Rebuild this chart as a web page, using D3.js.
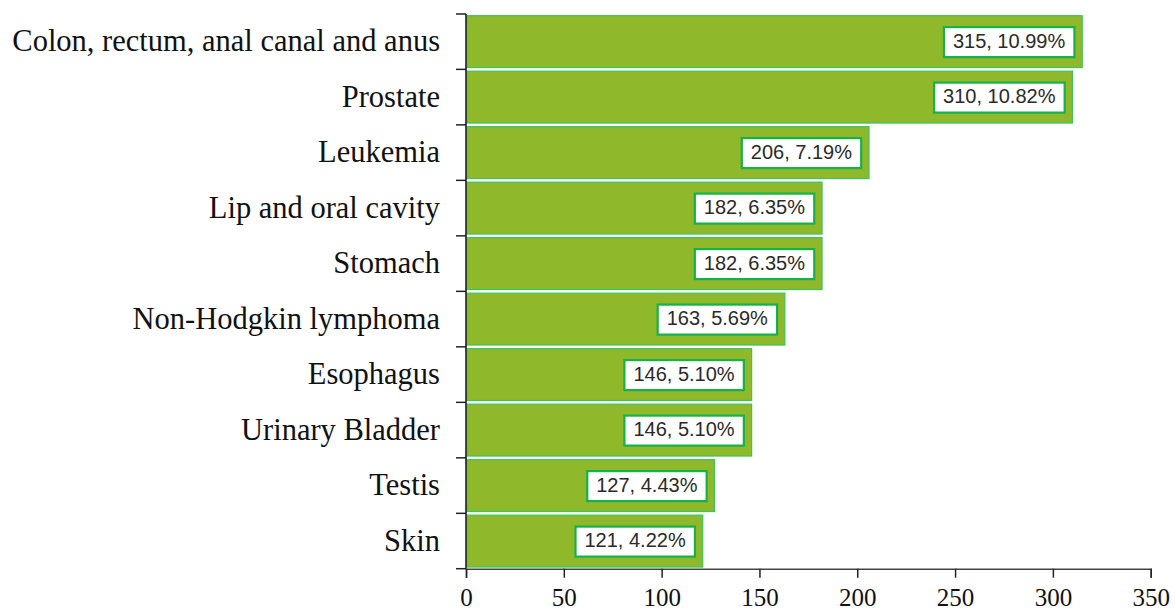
<!DOCTYPE html>
<html>
<head>
<meta charset="utf-8">
<script src="https://cdn.jsdelivr.net/npm/d3@7"></script>
<style>
  body { margin: 0; background: #fff; }
</style>
</head>
<body>
<div id="chart"></div>
<script>
// data
var categories = ["Colon, rectum, anal canal and anus", "Prostate", "Leukemia", "Lip and oral cavity",
                  "Stomach", "Non-Hodgkin lymphoma", "Esophagus", "Urinary Bladder", "Testis", "Skin"];
var counts = [315, 310, 206, 182, 182, 163, 146, 146, 127, 121];
var percents = ["10.99%", "10.82%", "7.19%", "6.35%", "6.35%", "5.69%", "5.10%", "5.10%", "4.43%", "4.22%"];
var xTicks = [0, 50, 100, 150, 200, 250, 300, 350];

var W = 1175, H = 614;
var margin = {top: 14, right: 24, bottom: 45, left: 466};

var svg = d3.select("#chart").append("svg").attr("width", W).attr("height", H);
var g = svg.append("g").attr("transform", "translate(" + margin.left + "," + margin.top + ")");

var x = d3.scaleLinear().domain([0, 350]).range([0, 684.7]);
var y = d3.scaleBand().domain(categories).range([0, 554.7]).paddingInner(0.065).paddingOuter(0.03);

var rows = categories.map(function (c, i) { return {name: c, v: counts[i], p: percents[i]}; });

// bars
g.selectAll(".bar").data(rows).enter().append("rect")
  .attr("class", "bar")
  .attr("x", 1)
  .attr("y", function (d) { return y(d.name); })
  .attr("width", function (d) { return x(d.v) - 1; })
  .attr("height", y.bandwidth())
  .attr("fill", "#8fb82a")
  .attr("stroke", "#3cc45e")
  .attr("stroke-width", 1.2);

// value labels
var lab = g.selectAll(".lab").data(rows).enter().append("g").attr("class", "lab");
lab.append("text")
  .attr("x", function (d) { return x(d.v) - 17; })
  .attr("y", function (d) { return y(d.name) + y.bandwidth() / 2 + 1; })
  .attr("text-anchor", "end")
  .attr("dominant-baseline", "middle")
  .style("font", "20px 'Liberation Sans', Arial, sans-serif")
  .attr("fill", "#2a2a2a")
  .text(function (d) { return d.v + ", " + d.p; });
lab.each(function (d) {
  var t = d3.select(this).select("text");
  var bb = t.node().getBBox();
  d3.select(this).insert("rect", "text")
    .attr("x", bb.x - 9)
    .attr("y", y(d.name) + y.bandwidth() / 2 - 14.5)
    .attr("width", bb.width + 18)
    .attr("height", 30)
    .attr("fill", "#fff")
    .attr("stroke", "#14b24a")
    .attr("stroke-width", 2.2);
});

// y axis
var yAxis = g.append("g")
  .call(d3.axisLeft(y).tickSize(0).tickPadding(26));
yAxis.select(".domain").remove();
yAxis.selectAll("text")
  .style("font", "30.5px 'Liberation Serif', 'Times New Roman', serif")
  .attr("fill", "#111");

// band boundary ticks and axis line
var bounds = d3.range(categories.length + 1).map(function (i) {
  return i < categories.length ? y(categories[i]) - y.step() * y.paddingInner() / 2 : 554.7;
});
bounds[0] = 0;
g.selectAll(".btick").data(bounds).enter().append("line")
  .attr("x1", -10).attr("x2", 0)
  .attr("y1", function (d) { return d; }).attr("y2", function (d) { return d; })
  .attr("stroke", "#222").attr("stroke-width", 1.5);
g.append("line").attr("x1", 0).attr("x2", 0).attr("y1", 0).attr("y2", 554.7)
  .attr("stroke", "#111").attr("stroke-width", 1.5);

// x axis
var xAxis = g.append("g").attr("transform", "translate(0,554.7)")
  .call(d3.axisBottom(x).tickValues(xTicks).tickSize(9).tickSizeOuter(9).tickPadding(11));
xAxis.select(".domain").attr("stroke", "#444").attr("stroke-width", 1.5);
xAxis.selectAll(".tick line").attr("stroke", "#222").attr("stroke-width", 1.5);
xAxis.selectAll("text")
  .style("font", "25px 'Liberation Serif', 'Times New Roman', serif")
  .attr("fill", "#111");
</script>
</body>
</html>
